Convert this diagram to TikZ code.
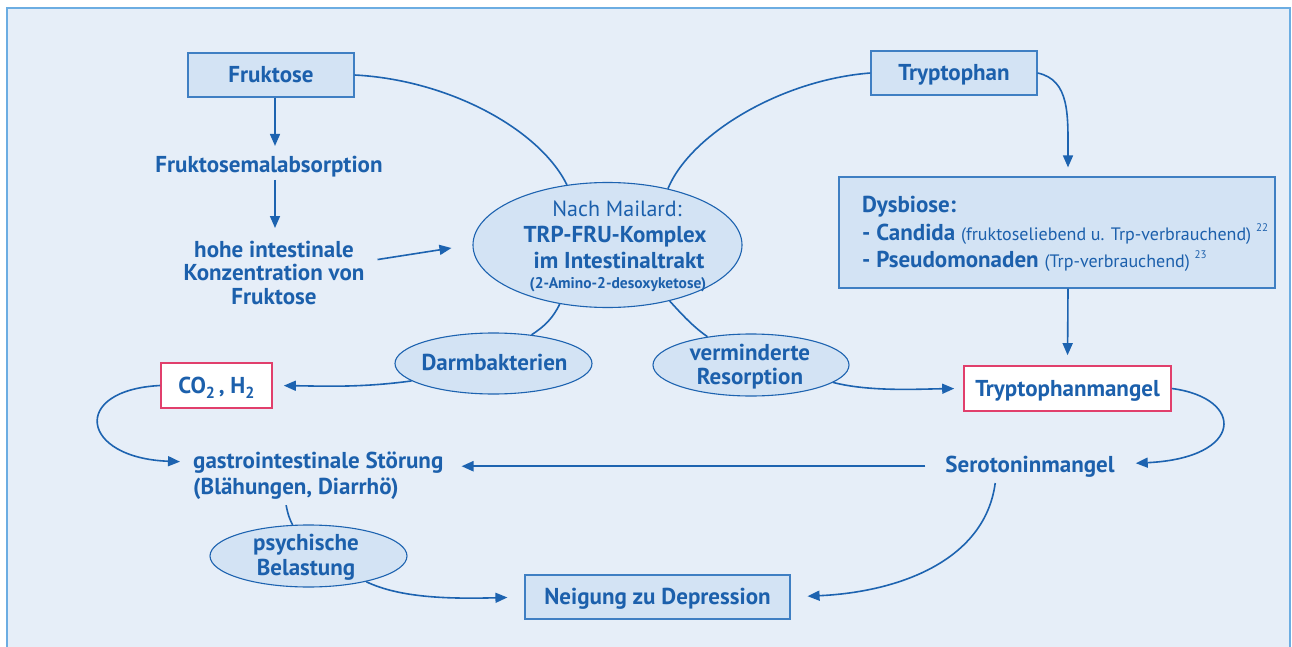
\documentclass[tikz,border=0pt]{standalone}
\usepackage{fontspec}
\setmainfont{PT Sans}
\usetikzlibrary{arrows.meta,shapes.geometric}
\definecolor{tb}{HTML}{1C60AC}
\definecolor{ln}{HTML}{1D63B0}
\definecolor{bgc}{HTML}{E6EEF8}
\definecolor{bf}{HTML}{D3E3F4}
\definecolor{bx}{HTML}{3F7FC3}
\definecolor{fr}{HTML}{6CADE2}
\definecolor{pk}{HTML}{E13F6C}
\newcommand\bigtxt{\bfseries\fontsize{23}{23.5}\selectfont}
\newcommand\smtxt{\mdseries\fontsize{18}{20}\selectfont}
\newcommand\supnum[1]{\raisebox{0.45em}{\mdseries\fontsize{11}{11}\selectfont #1}}
\newcommand\subnum[1]{\raisebox{-0.22em}{\fontsize{16}{16}\selectfont #1}}
\begin{document}
\begin{tikzpicture}[x=1pt,y=-1pt,
  lbl/.style={text=tb,font=\bigtxt,inner sep=0pt,anchor=base},
  mlbl/.style={text=tb,font=\bigtxt,inner sep=0pt,align=center},
  bluebox/.style={draw=bx,fill=bf,line width=1.2pt,inner sep=0pt,text=tb,font=\bigtxt,text height=15pt,text depth=0pt},
  pinkbox/.style={draw=pk,fill=white,line width=1.6pt,inner sep=0pt,text=tb,font=\bigtxt,text height=15pt,text depth=0pt},
  ellip/.style={ellipse,draw=ln,fill=bf,line width=1.1pt,inner sep=0pt},
  conn/.style={draw=ln,line width=1.6pt},
  arr/.style={conn,-{Triangle[length=12pt,width=10pt]}},
]
\useasboundingbox (0,0) rectangle (1292,647);
\clip (0,0) rectangle (1292,647);
\fill[white] (0,0) rectangle (1292,647);
\draw[fr,line width=2pt,fill=bgc] (7,8) rectangle (1290,700);

% boxes
\node[bluebox,minimum width=166pt,minimum height=44pt] (fru) at (271,75) {Fruktose};
\node[bluebox,minimum width=166pt,minimum height=44pt] (tryp) at (954,73) {Tryptophan};
\node[bluebox,minimum width=436pt,minimum height=111pt] (dys) at (1057,232.5) {};
\node[pinkbox,minimum width=207pt,minimum height=45pt] (tmang) at (1067.5,388.5) {Tryptophanmangel};
\node[pinkbox,minimum width=111pt,minimum height=45pt] (co2) at (216.5,385.5) {CO\subnum{2}\,, H\subnum{2}};
\node[bluebox,minimum width=265pt,minimum height=44pt] (neig) at (657.5,597) {Neigung zu Depression};

% ellipses
\node[ellip,minimum width=269pt,minimum height=125pt] (ell) at (607.5,245) {};
\node[ellip,minimum width=197pt,minimum height=61pt] (darm) at (493.5,363.5) {};
\node[ellip,minimum width=196pt,minimum height=62pt] (verm) at (751,365) {};
\node[ellip,minimum width=197pt,minimum height=62pt] (psych) at (308.5,556) {};

% texts
\node[lbl] (fmal) at (269,172) {Fruktosemalabsorption};
\node[mlbl,anchor=north] (hohe) at (274,240.5) {hohe intestinale\\Konzentration von\\Fruktose};
\node[lbl,font=\mdseries\fontsize{22}{23}\selectfont] (mail1) at (617,216) {Nach Mailard:};
\node[lbl] (mail2) at (615,242) {TRP-FRU-Komplex};
\node[lbl] (mail3) at (619,268) {im Intestinaltrakt};
\node[lbl,font=\bfseries\fontsize{15.5}{17}\selectfont] (mail4) at (618,288) {(2-Amino-2-desoxyketose)};
\node[lbl] (darmt) at (494.5,370) {Darmbakterien};
\node[lbl] (verm1) at (750,360) {verminderte};
\node[lbl] (verm2) at (750,384) {Resorption};
\node[lbl] (psy1) at (306,550) {psychische};
\node[lbl] (psy2) at (306,575) {Belastung};
\node[lbl] (sero) at (1030,472) {Serotoninmangel};
\node[lbl,anchor=base west] (g1) at (193,468) {gastrointestinale Störung};
\node[lbl,anchor=base west] (g2) at (193,494) {(Blähungen, Diarrhö)};
\node[lbl,anchor=base west] (dys1) at (862,212) {Dysbiose:};
\node[lbl,anchor=base west] (dys2) at (862,240) {- Candida {\smtxt (fruktoseliebend u. Trp-verbrauchend) \supnum{22}}};
\node[lbl,anchor=base west] (dys3) at (862,267) {- Pseudomonaden {\smtxt (Trp-verbrauchend) \supnum{23}}};

% connectors
\draw[arr,shorten >=9.5pt] ([xshift=4pt]fru.south) -- ([xshift=4pt]fru.south |- fmal.north);
\draw[arr,shorten <=3pt,shorten >=12.5pt] ([xshift=4pt]fru.south |- fmal.south) -- ([xshift=4pt]fru.south |- hohe.north);
\draw[arr] ([xshift=13pt,yshift=13pt]hohe.east) -- ([xshift=-21pt,yshift=-3pt]ell.west);
\draw[conn] (fru.east) .. controls (450,80) and (540,130) .. (ell.124);
\draw[conn] (tryp.west) .. controls (780,80) and (690,135) .. (ell.43);
\draw[arr,shorten >=9pt] (tryp.east) .. controls (1070,80) and (1068,115) .. ([xshift=11pt]dys.north);
\draw[arr,shorten >=10pt] ([xshift=11pt]dys.south) -- (tmang.north);
\draw[arr] (tmang.east) .. controls (1245,398) and (1245,458) .. ([xshift=21pt,yshift=3pt]sero.east);
\draw[arr,line width=2.2pt,shorten <=20pt,shorten >=18pt] (sero.west) -- (sero.west -| g1.east);
\draw[arr,shorten >=13pt] (co2.west) .. controls (70,390) and (80,458) .. (g1.west);
\draw[conn] (ell.231) .. controls (553,318) and (545,326) .. (darm.37);
\draw[conn] (ell.318) .. controls (685,318) and (695,328) .. (verm.147);
\draw[arr,shorten >=11pt] (darm.192) .. controls (360,388) and (320,386) .. (co2.east);
\draw[arr,shorten >=9pt] (verm.348) .. controls (870,392) and (920,389) .. (tmang.west);
\draw[conn,shorten <=6pt] ([xshift=-11pt]g2.south) .. controls (288,515) and (290,520) .. (psych.117);
\draw[arr,shorten >=17pt] (psych.336) .. controls (400,598) and (450,599) .. (neig.west);
\draw[arr,shorten <=6pt,shorten >=17pt] ([xshift=-34pt]sero.south) .. controls (985,560) and (900,592) .. (neig.east);
\end{tikzpicture}
\end{document}
